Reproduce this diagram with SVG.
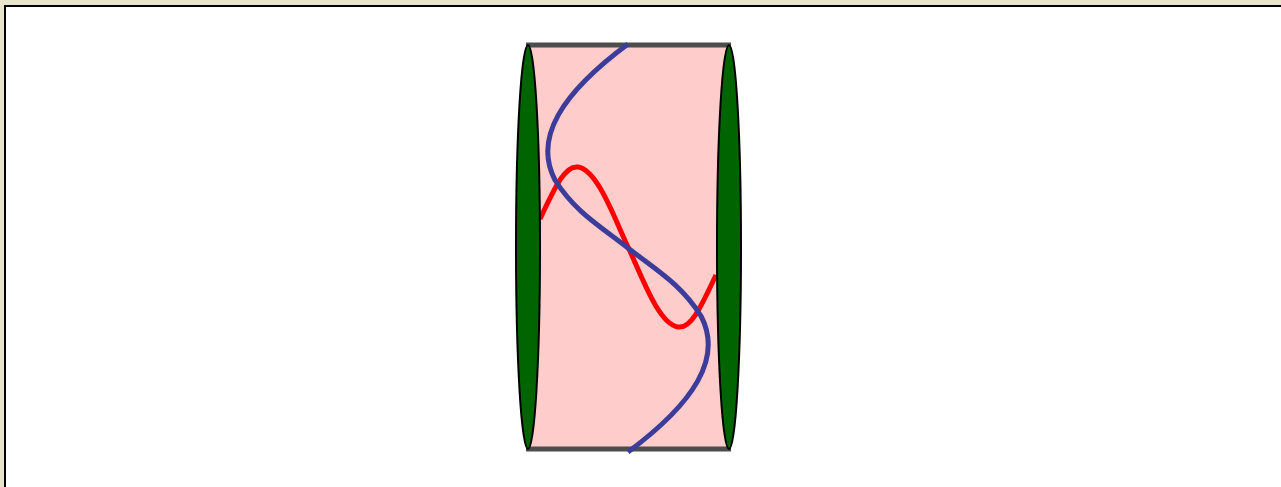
<svg xmlns="http://www.w3.org/2000/svg" width="1281" height="487" viewBox="0 0 1281 487">
<style>
.edge{stroke:#4d4d4d;stroke-width:5;fill:none}
.cap{fill:#006400;stroke:#000;stroke-width:2}
.curve{fill:none;stroke-width:5;stroke-linecap:butt}
</style>
<rect x="0" y="0" width="1281" height="487" fill="#e8e4cb"/>
<rect x="5" y="6" width="1290" height="500" fill="#fff" stroke="#000" stroke-width="2"/>
<g id="cylinder">
<rect x="527" y="45" width="203" height="404" fill="#ffcccc"/>
<line class="edge" x1="526" y1="45" x2="731" y2="45"/>
<line class="edge" x1="526" y1="449" x2="731" y2="449"/>
</g>
<g id="connectors">
<path class="curve" stroke="#ff0000" d="M540,219 C555,187 565,165 578,167 C598,170 615,220 628,247 C641,274 658,324 678,327 C691,329 701,307 716,275"/>
<path class="curve" stroke="#3c3c9a" d="M628,44 C562,93 533,138 555,180 C575,212 600,226 628,248 C656,270 681,284 701,316 C723,358 694,403 628,452"/>
</g>
<g id="left-cap"><ellipse class="cap" cx="528" cy="247" rx="12" ry="202"/></g>
<g id="right-cap"><ellipse class="cap" cx="729" cy="247" rx="12" ry="202"/></g>
</svg>
